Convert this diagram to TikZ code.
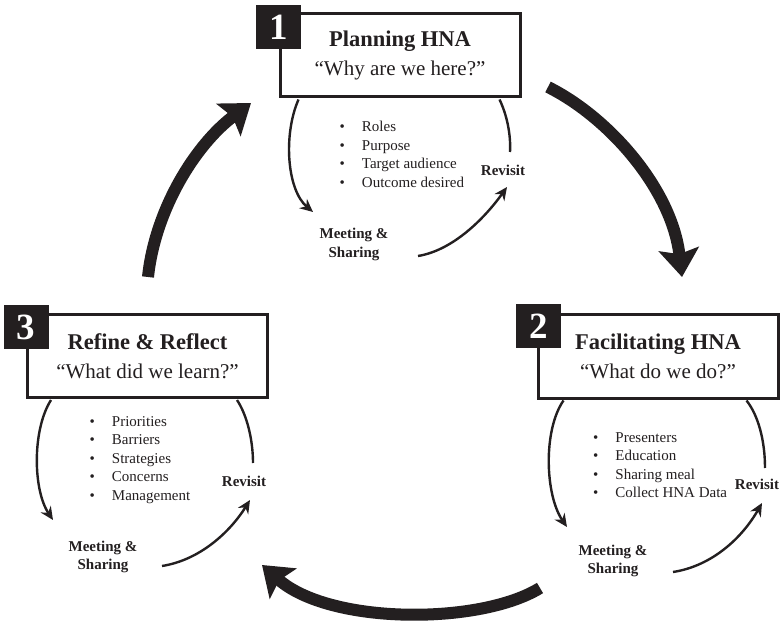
\documentclass[tikz,border=0pt]{standalone}
\usepackage{fontspec}
\setmainfont{Liberation Serif}
\usetikzlibrary{arrows.meta,positioning,calc}
\definecolor{ink}{HTML}{231F20}
\tikzset{
  stage/.style={draw=ink,line width=3pt,fill=white,minimum width=240pt,minimum height=83pt,
    inner sep=0pt,align=center,text=ink,font=\fontsize{21}{29}\selectfont},
  stagenum/.style={fill=ink,text=white,minimum width=45pt,minimum height=44pt,inner sep=0pt,
    font=\fontsize{37}{37}\selectfont\bfseries},
  items/.style={anchor=west,align=left,inner sep=0pt,text=ink,font=\fontsize{15}{18.5}\selectfont},
  tag/.style={align=center,inner sep=0pt,text=ink,font=\fontsize{15}{18.5}\selectfont\bfseries},
  looparrow/.style={draw=ink,line width=2.4pt,-{Stealth[length=13pt,width=12pt]}},
  loopline/.style={draw=ink,line width=2.4pt},
  phasearrow/.style={draw=ink,line width=12pt,-{Stealth[length=28pt,width=40pt,inset=5pt]}}
}
\newcommand{\itm}{\textbullet\hspace{17pt}}
\begin{document}
\begin{tikzpicture}[x=1pt,y=-1pt]
\useasboundingbox (0,0) rectangle (782,628);

% stages
\node[stage] (box1) at (400,55.5) {\textbf{\fontsize{22.5}{29}\selectfont Planning HNA}\\“Why are we here?”};
\node[stage] (box2) at (658,356.5) {\textbf{\fontsize{22.5}{29}\selectfont Facilitating HNA}\\“What do we do?”};
\node[stage] (box3) at (147.5,356) {\textbf{\fontsize{22.5}{29}\selectfont Refine \& Reflect}\\“What did we learn?”};

\node[stagenum] (num1) at ([yshift=-15pt]box1.north west) {1};
\node[stagenum] (num2) at ([xshift=2pt,yshift=-13pt]box2.north west) {2};
\node[stagenum] (num3) at ([yshift=-14.5pt]box3.north west) {3};

% lists and tags
\node[items] (list1) at (339.5,154.5) {\itm Roles\\\itm Purpose\\\itm Target audience\\\itm Outcome desired};
\node[items] (list2) at (593,465) {\itm Presenters\\\itm Education\\\itm Sharing meal\\\itm Collect HNA Data};
\node[items] (list3) at (89.5,460) {\itm Priorities\\\itm Barriers\\\itm Strategies\\\itm Concerns\\\itm Management};

\node[tag] (rev1) at (503,170) {Revisit};
\node[tag] (rev2) at (757,484) {Revisit};
\node[tag] (rev3) at (244,481) {Revisit};
\node[tag] (meet1) at (354,244.5) {Meeting \&\\Sharing};
\node[tag] (meet2) at (613,561) {Meeting \&\\Sharing};
\node[tag] (meet3) at (103,557) {Meeting \&\\Sharing};

% loop ends
\coordinate (in1) at (313,212);
\coordinate (out1) at (418,256);
\coordinate (back1) at (507,187);
\coordinate (up1) at (510,152);
\coordinate (in2) at (567,527);
\coordinate (out2) at (673,572);
\coordinate (back2) at (762,503);
\coordinate (up2) at (765,468);
\coordinate (in3) at (53,520);
\coordinate (out3) at (162,566);
\coordinate (back3) at (250,500);
\coordinate (up3) at (253,463);

\draw[looparrow] ([xshift=20pt,yshift=-1pt]box1.south west) .. controls (283,135) and (287,190) .. (in1);
\draw[loopline] ([xshift=-22pt,yshift=-1pt]box1.south east) .. controls (507,115) and (511,135) .. (up1);
\draw[looparrow] (out1) .. controls (455,250) and (487,215) .. (back1);

\draw[looparrow] ([xshift=27pt,yshift=-1pt]box2.south west) .. controls (543,430) and (545,495) .. (in2);
\draw[loopline] ([xshift=-33pt,yshift=-1pt]box2.south east) .. controls (758,415) and (765,440) .. (up2);
\draw[looparrow] (out2) .. controls (712,566) and (742,538) .. (back2);

\draw[looparrow] ([xshift=25pt,yshift=-1pt]box3.south west) .. controls (32,430) and (33,490) .. (in3);
\draw[loopline] ([xshift=-32pt,yshift=-1pt]box3.south east) .. controls (247,415) and (253,440) .. (up3);
\draw[looparrow] (out3) .. controls (200,560) and (230,532) .. (back3);

% cycle
\coordinate (a) at (548,87);
\coordinate (b) at (682,277);
\coordinate (c) at (540,588);
\coordinate (d) at (262,565);
\coordinate (e) at (148,277);
\coordinate (f) at (251,103);
\draw[phasearrow] (a) .. controls (610,118) and (672,190) .. (b);
\draw[phasearrow] (c) .. controls (480,625) and (330,625) .. (d);
\draw[phasearrow] (e) .. controls (155,210) and (195,145) .. (f);

\end{tikzpicture}
\end{document}
